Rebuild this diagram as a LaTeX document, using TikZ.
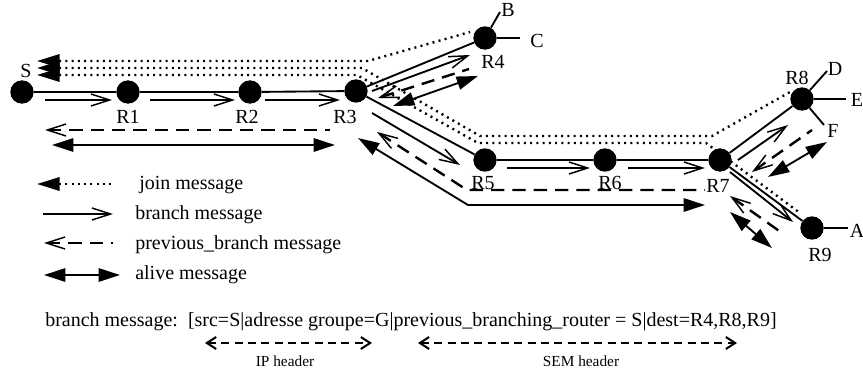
\documentclass[tikz,border=0pt]{standalone}
\usepackage{fontspec}
\setmainfont{Liberation Serif}
\usetikzlibrary{arrows.meta}

\tikzset{
  router/.style={circle,fill=black,inner sep=0pt,minimum size=17.5pt},
  lbl/.style={inner sep=0pt,font=\fontsize{15}{18}\selectfont},
  hdrlbl/.style={inner sep=0pt,font=\fontsize{11.5}{13}\selectfont},
  link/.style={line width=1.4pt},
  branch/.style={line width=1.4pt,-{Straight Barb[length=14pt,width=9pt,line width=1.1pt]}},
  prevbranch/.style={line width=1.8pt,dash pattern=on 10pt off 6pt,
    {Straight Barb[length=14pt,width=9pt,line width=1.1pt]}-},
  joinmsg/.style={line width=1.8pt,dash pattern=on 1.5pt off 3.2pt,{Triangle[length=17pt,width=10pt]}-},
  alive/.style={line width=1.4pt,{Triangle[length=16pt,width=10pt]}-{Triangle[length=16pt,width=10pt]}},
  header/.style={line width=1.3pt,dash pattern=on 6pt off 4pt,
    {Straight Barb[length=7pt,width=9pt,line width=1.5pt]}-{Straight Barb[length=7pt,width=9pt,line width=1.5pt]}}
}

\begin{document}
\begin{tikzpicture}[x=0.75pt,y=-0.75pt]
\useasboundingbox (0,0) rectangle (863,375);

% routers
\node[router] (S) at (22,92) {};
\node[router] (R1) at (128,92) {};
\node[router] (R2) at (250,92) {};
\node[router] (R3) at (356,91) {};
\node[router] (R4) at (485,38) {};
\node[router] (R5) at (485,160) {};
\node[router] (R6) at (605,160) {};
\node[router] (R7) at (720,160) {};
\node[router] (R8) at (802,99) {};
\node[router] (R9) at (812,228) {};

% leaf ends
\coordinate (eB) at (500,12);
\coordinate (eC) at (520,38);
\coordinate (eD) at (827,71);
\coordinate (eE) at (846,99);
\coordinate (eF) at (824,125);
\coordinate (eA) at (848,228);

% labels
\node[lbl] (lS) at (26,71) {S};
\node[lbl] (l1) at (128,117) {R1};
\node[lbl] (l2) at (247,117) {R2};
\node[lbl] (l3) at (345,117) {R3};
\node[lbl] (l4) at (493,62) {R4};
\node[lbl] (l5) at (483,183) {R5};
\node[lbl] (l6) at (610,183) {R6};
\node[lbl] (l7) at (718,186) {R7};
\node[lbl] (l8) at (797,78) {R8};
\node[lbl] (l9) at (820,255) {R9};
\node[lbl] (lB) at (508,10) {B};
\node[lbl] (lC) at (537,41) {C};
\node[lbl] (lD) at (835,69) {D};
\node[lbl] (lE) at (857,100) {E};
\node[lbl] (lF) at (833,131) {F};
\node[lbl] (lA) at (857,231) {A};

% links
\draw[link] (S) -- (R1) -- (R2) -- (R3);
\draw[link] (R3) -- (R4);
\draw[link] (R3) -- (R5) -- (R6) -- (R7);
\draw[link] (R7) -- (R8);
\draw[link] (R7) -- (R9);
\draw[link] (R4) -- (eB);
\draw[link] (R4) -- (eC);
\draw[link] (R8) -- (eD);
\draw[link] (R8) -- (eE);
\draw[link] (R8) -- (eF);
\draw[link] (R9) -- (eA);

% join messages
\draw[joinmsg] (37,61) -- (368,61) -- (470,32);
\draw[joinmsg] (37,68) -- (362,68) -- (480,136) -- (712,136) -- (790,92);
\draw[joinmsg] (37,75) -- (357,75) -- (478,143) -- (706,143) -- (800,213);

% branch messages
\draw[branch] (45,100) -- (112,100);
\draw[branch] (150,100) -- (235,100);
\draw[branch] (265,100) -- (340,100);
\draw[branch] (372,91) -- (470,55);
\draw[branch] (372,113) -- (460,165);
\draw[branch] (507,168) -- (590,168);
\draw[branch] (628,168) -- (705,168);
\draw[branch] (738,160) -- (788,125);
\draw[branch] (730,172) -- (793,222);

% previous_branch messages
\draw[prevbranch] (45,130) -- (330,130);
\draw[prevbranch] (378,98) -- (469,69);
\draw[prevbranch] (377,132) -- (467,190) -- (705,190);
\draw[prevbranch] (752,172) -- (812,130);
\draw[prevbranch] (730,196) -- (782,233);

% alive messages
\draw[alive] (52,145) -- (335,145);
\draw[alive] (393,106) -- (478,76);
\draw[alive] (358,138) -- (468,205) -- (705,205);
\draw[alive] (768,177) -- (827,142);
\draw[alive] (730,212) -- (772,248);

% legend
\draw[joinmsg] (37,184) -- (113,184);
\draw[branch] (43,214) -- (113,214);
\draw[prevbranch] (44,243) -- (113,243);
\draw[alive] (44,275) -- (120,275);
\node[lbl,anchor=west] (kj) at (139,185) {join message};
\node[lbl,anchor=west] (kb) at (135,215) {branch message};
\node[lbl,anchor=west] (kp) at (135,245) {previous\_branch message};
\node[lbl,anchor=west] (ka) at (135,275) {alive message};

% packet format
\node[lbl,anchor=west] (fmt) at (45,322)
  {branch message:\ \ [src=S|adresse groupe=G|previous\_branching\_router = S|dest=R4,R8,R9]};
\draw[header] (205,343) -- (372,343);
\draw[header] (418,343) -- (737,343);
\node[hdrlbl] (ip) at (285,361) {IP header};
\node[hdrlbl] (sem) at (581,361) {SEM header};
\end{tikzpicture}
\end{document}
